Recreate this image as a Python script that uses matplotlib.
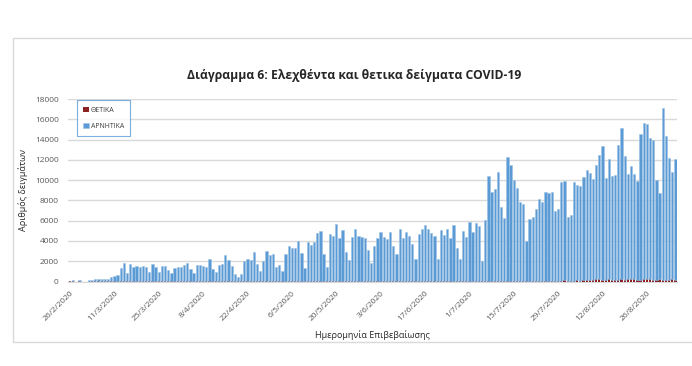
import numpy as np
import pandas as pd
import matplotlib
matplotlib.use("Agg")
import matplotlib.pyplot as plt
from matplotlib.patches import Rectangle

plt.rcParams['font.family'] = ['Open Sans', 'DejaVu Sans']

title = "Διάγραμμα 6: Ελεχθέντα και θετικα δείγματα COVID-19"
xlabel = "Ημερομηνία Επιβεβαίωσης"
ylabel = "Αριθμός δειγμάτων"
start_date = "2020-02-26"

# daily positive samples (ΘΕΤΙΚΑ), 26/2 .. 4/9
positives = [1, 2, 0, 4,
             0, 0, 0, 2, 2, 34, 8, 16, 16, 17, 45, 39, 38, 59, 56, 31, 40, 33, 71, 35,
             31, 71, 95, 74, 79, 71, 64, 78, 62, 87, 95,
             50, 35, 53, 94, 62, 60, 58, 70, 25, 20, 35, 20, 56, 12, 26, 56, 15, 10, 8, 68,
             52, 37, 22, 8, 19, 16, 8, 3, 10, 9,
             13, 6, 8, 10, 11, 12, 9, 4, 10, 3, 7, 13, 9, 9, 20, 11, 21, 7, 4, 6,
             8, 4, 16, 4, 7, 6, 6, 12, 1, 4, 3,
             10, 10, 8, 97, 15, 13, 14, 12, 15, 11, 3, 21, 19, 23, 16, 2, 14, 9, 11, 12,
             17, 18, 11, 34, 3, 14, 9, 12, 10, 18,
             21, 17, 34, 27, 23, 22, 18, 28, 23, 19, 39, 21, 41, 35, 18, 34, 19, 27, 23, 13,
             27, 40, 18, 24, 25, 77, 32, 57, 37, 43, 110,
             78, 75, 61, 121, 92, 153, 124, 122, 151, 262, 203, 134, 126, 217, 161, 156, 168, 230, 166, 219,
             202, 269, 190, 149, 222, 292, 254, 189, 115, 210, 168,
             169, 151, 198, 148]

# daily negative samples (ΑΡΝΗΤΙΚΑ)
negatives = [70, 130, 0, 100, 0, 0, 100, 150, 200, 220, 220, 200, 200, 400, 500, 650,
             1300, 1730, 830, 1730, 1430, 1500, 1400, 1500, 1430, 900, 1650, 1370, 830, 1430,
             1480, 1100, 780, 1230, 1310, 1380, 1560, 1770, 1150, 780, 1550, 1610, 1420, 1400,
             2160, 1150, 870, 1610, 1760, 2590, 2080, 1470, 700, 460, 690, 1970, 2200, 2120,
             2880, 1680, 990, 1990, 2980, 2580, 2660, 1370, 1600, 1070, 2660, 3450, 3280, 3280,
             4010, 2820, 1340, 3910, 3610, 3910, 4740, 5000, 2660, 1400, 4640, 4500, 5660, 4310,
             5030, 2920, 2100, 4380, 5200, 4500, 4380, 4270, 3090, 1800, 3510, 4310, 4900, 4340,
             4210, 4900, 3510, 2690, 5200, 4310, 4900, 4500, 3680, 2160, 4670, 5130, 5590, 5130,
             4770, 4440, 2160, 5070, 4540, 5130, 4310, 5590, 3280, 2240, 4950, 4340, 5880, 4840,
             5730, 5460, 1990, 6050, 10350, 8840, 9070, 10810, 7270, 6280, 12250, 11460, 9950, 9200,
             7850, 7620, 4010, 6180, 6350, 7100, 8150, 7850, 8840, 8610, 8840, 6870, 7100, 9760,
             9760, 6280, 6510, 9760, 9400, 9300, 10190, 10840, 10580, 9920, 11270, 12250, 13200, 10050,
             11890, 10280, 10380, 13300, 14920, 12180, 10380, 11200, 10380, 9760, 14390, 15440, 15270, 13860,
             13730, 9860, 8480, 16940, 14160, 12050, 10610, 11920]

dates = pd.date_range(start_date, periods=len(negatives), freq="D")
x = np.arange(len(dates))
pos = np.array(positives)
neg = np.array(negatives)

fig = plt.figure(figsize=(6.92, 3.66), dpi=100)
fig.patches.append(Rectangle((13/692, 24/366), 1.0, 304/366, transform=fig.transFigure,
                             fill=False, edgecolor="#D9D9D9", linewidth=1.0))

ax = fig.add_axes([68.4/692, (366-281.5)/366, (677-68.4)/692, (281.5-99)/366])

ax.bar(x, pos, width=0.72, color="#8B2323", label="ΘΕΤΙΚΑ", zorder=3)
ax.bar(x, neg, width=0.72, bottom=pos, color="#5B9BD5", edgecolor="#9DC3E6",
       linewidth=0.4, label="ΑΡΝΗΤΙΚΑ", zorder=3)

ax.set_xlim(-0.5, len(x) - 0.5)
ax.set_ylim(0, 18000)
ax.set_yticks(np.arange(0, 18001, 2000))
ax.yaxis.grid(True, color="#D9D9D9", linewidth=1.0, zorder=0)
for s in ["left", "right", "top"]:
    ax.spines[s].set_visible(False)
ax.spines["bottom"].set_color("#D9D9D9")

ticks = x[::14]
ax.set_xticks(ticks)
ax.set_xticklabels([f"{d.day}/{d.month}/{d.year}" for d in dates[::14]],
                   rotation=45, ha="right", rotation_mode="anchor")
ax.tick_params(axis="both", length=0, labelsize=6, labelcolor="#595959")
ax.tick_params(axis="x", pad=6)
ax.tick_params(axis="y", pad=7)

ax.set_xlabel(xlabel, fontsize=6.5, color="#262626", labelpad=5)
ax.set_ylabel(ylabel, fontsize=6.5, color="#262626", labelpad=5)

fig.text(354/692, 1 - 75/366, title, ha="center", va="center",
         fontsize=8.7, fontweight="bold", color="#262626")

leg = ax.legend(loc="upper left", bbox_to_anchor=(7/609, 1.0), fontsize=5,
                frameon=True, fancybox=False, edgecolor="#5B9BD5",
                handlelength=0.8, handleheight=0.8, handletextpad=0.3,
                borderpad=0.9, labelspacing=1.3, borderaxespad=0.2)
leg.get_frame().set_linewidth(0.8)
for t in leg.get_texts():
    t.set_color("#404040")

fig.savefig("out.png", dpi=100)
